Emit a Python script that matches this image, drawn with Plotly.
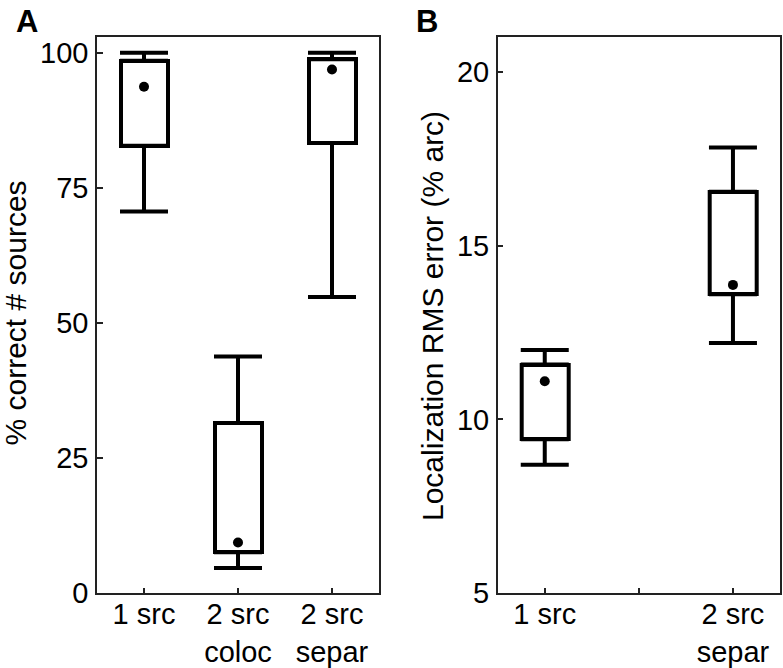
import plotly.graph_objects as go
from plotly.subplots import make_subplots

# ---------------- data ----------------
# Panel A: % correct number of sources
conditions_A = ["1 src", "2 src<br>coloc", "2 src<br>separ"]
lower_A = [70.6, 4.7, 54.8]     # lower whisker end
q1_A = [82.8, 7.6, 83.3]        # box bottom
q3_A = [98.5, 31.5, 98.8]       # box top
upper_A = [100.0, 43.8, 100.0]  # upper whisker end
dot_A = [93.7, 9.4, 96.9]       # central dot

# Panel B: localization RMS error (% arc)
axis_slots_B = ["1 src", " ", "2 src<br>separ"]
conditions_B = ["1 src", "2 src<br>separ"]
lower_B = [8.7, 12.2]
q1_B = [9.43, 13.6]
q3_B = [11.58, 16.55]
upper_B = [12.0, 17.82]
dot_B = [11.1, 13.87]

FONT = "Liberation Sans, Arial, Helvetica, sans-serif"
W, H = 783, 668
LW = 4
CAP = 24


def px(xp):
    return xp / W


def py(yp):
    return 1 - yp / H


fig = make_subplots(rows=1, cols=2)


def add_boxes(cats, lo, q1, q3, hi, dot, col):
    # box body
    fig.add_trace(go.Bar(
        x=cats, y=[b - a for a, b in zip(q1, q3)], base=q1, width=0.5,
        marker=dict(color="white", line=dict(color="black", width=LW)),
        showlegend=False, hoverinfo="skip"), row=1, col=col)
    # upper whisker
    fig.add_trace(go.Scatter(
        x=cats, y=q3, mode="markers",
        marker=dict(size=1, color="rgba(0,0,0,0)"),
        error_y=dict(type="data", symmetric=False,
                     array=[h - t for h, t in zip(hi, q3)],
                     arrayminus=[0] * len(cats),
                     color="black", thickness=LW, width=CAP),
        showlegend=False, hoverinfo="skip"), row=1, col=col)
    # lower whisker
    fig.add_trace(go.Scatter(
        x=cats, y=q1, mode="markers",
        marker=dict(size=1, color="rgba(0,0,0,0)"),
        error_y=dict(type="data", symmetric=False,
                     array=[0] * len(cats),
                     arrayminus=[b - l for b, l in zip(q1, lo)],
                     color="black", thickness=LW, width=CAP),
        showlegend=False, hoverinfo="skip"), row=1, col=col)
    # dots
    fig.add_trace(go.Scatter(
        x=cats, y=dot, mode="markers",
        marker=dict(size=10, color="black"),
        showlegend=False), row=1, col=col)


add_boxes(conditions_A, lower_A, q1_A, q3_A, upper_A, dot_A, 1)
add_boxes(conditions_B, lower_B, q1_B, q3_B, upper_B, dot_B, 2)

axis_common = dict(
    showline=True, linecolor="#222", linewidth=1.5, mirror=True,
    ticks="inside", ticklen=6, tickwidth=1.5, tickcolor="#222",
    showgrid=False, zeroline=False, automargin=False,
    tickfont=dict(family=FONT, size=29, color="black"),
)

y0 = py(593.3)
y1 = py(37.0)

fig.update_layout(
    width=W, height=H,
    margin=dict(l=0, r=0, t=0, b=0),
    plot_bgcolor="white", paper_bgcolor="white",
    font=dict(family=FONT, color="black"),
    showlegend=False,
    bargap=0,
    xaxis=dict(axis_common, domain=[px(97), px(379)], type="category",
               categoryorder="array", categoryarray=conditions_A,
               range=[-0.5, 2.5], ticklabelstandoff=-6),
    yaxis=dict(axis_common, domain=[y0, y1], range=[0, 102.9],
               tickvals=[0, 25, 50, 75, 100], ticklabelstandoff=1),
    xaxis2=dict(axis_common, domain=[px(497.7), px(780)], type="category",
                categoryorder="array", categoryarray=axis_slots_B,
                range=[-0.5, 2.5], ticklabelstandoff=-6),
    yaxis2=dict(axis_common, domain=[y0, y1], range=[5, 21],
                tickvals=[5, 10, 15, 20], ticklabelstandoff=1),
    annotations=[
        dict(text="<b>A</b>", x=px(27), y=py(21), xref="paper", yref="paper",
             xanchor="center", yanchor="middle", showarrow=False,
             font=dict(family=FONT, size=31, color="black")),
        dict(text="<b>B</b>", x=px(427), y=py(21), xref="paper", yref="paper",
             xanchor="center", yanchor="middle", showarrow=False,
             font=dict(family=FONT, size=31, color="black")),
        dict(text="% correct # sources", x=px(15), y=py(313.5),
             xref="paper", yref="paper", textangle=-90,
             xanchor="center", yanchor="middle", showarrow=False,
             font=dict(family=FONT, size=30, color="black")),
        dict(text="Localization RMS error (% arc)", x=px(432), y=py(316),
             xref="paper", yref="paper", textangle=-90,
             xanchor="center", yanchor="middle", showarrow=False,
             font=dict(family=FONT, size=30, color="black")),
    ],
)

fig.write_html("out.html", config={"displayModeBar": False},
               post_script="document.body.style.margin='0';")
